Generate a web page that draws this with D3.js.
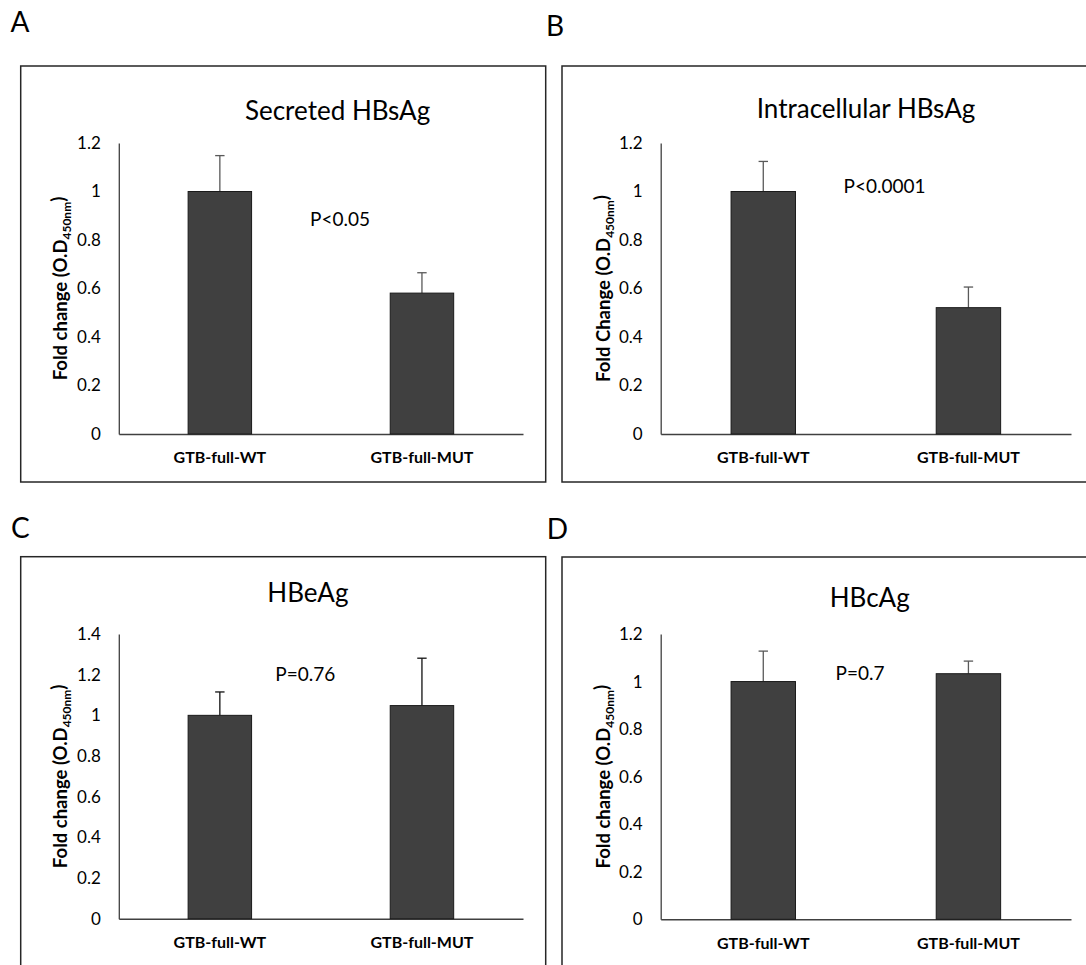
<!DOCTYPE html>
<html>
<head>
<meta charset="utf-8">
<script src="https://cdn.jsdelivr.net/npm/d3@7"></script>
<style>
  body { margin: 0; background: #fff; }
  svg { display: block; font-family: Lato, "Open Sans", sans-serif; }
</style>
</head>
<body>
<div id="chart"></div>
<script>
// values
var categories = ["GTB-full-WT", "GTB-full-MUT"];
var panelLetters = ["A", "B", "C", "D"];
var panelTitles = ["Secreted HBsAg", "Intracellular HBsAg", "HBeAg", "HBcAg"];
var yLabels = ["Fold change", "Fold Change", "Fold change", "Fold change"];
var pLabels = ["P<0.05", "P<0.0001", "P=0.76", "P=0.7"];
var yMax = [1.2, 1.2, 1.4, 1.2];
var means = [[1.0, 0.581], [1.0, 0.521], [1.0, 1.048], [1.0, 1.033]];
var errors = [[0.148, 0.084], [0.124, 0.085], [0.115, 0.233], [0.128, 0.053]];

// layout of each panel (page pixels)
var layout = [
  { fx: 20.7, fy: 66, fw: 525, fh: 416, x0: 118.8, x1: 523, top: 143, bot: 434,
    lx: 10.4, ly: 32, tx: 337.6, ty: 120, px: 310, py: 226, ylx: 60.6, err: "#595959" },
  { fx: 562, fy: 66, fw: 560, fh: 416, x0: 660.7, x1: 1071, top: 143, bot: 434,
    lx: 546, ly: 36, tx: 866, ty: 118, px: 843.6, py: 193, ylx: 603.6, err: "#595959" },
  { fx: 20.7, fy: 556.7, fw: 525, fh: 430, x0: 118.8, x1: 523, top: 634, bot: 918.7,
    lx: 11, ly: 538, tx: 307.9, ty: 602, px: 275.3, py: 681, ylx: 60.6, err: "#111" },
  { fx: 562, fy: 557, fw: 560, fh: 430, x0: 660.7, x1: 1071, top: 634, bot: 919.3,
    lx: 546.7, ly: 539, tx: 869.7, ty: 607, px: 835.6, py: 680, ylx: 603.6, err: "#595959" }
];

var width = 1086, height = 965;
var svg = d3.select("#chart").append("svg")
  .attr("width", width)
  .attr("height", height);

function fmt(d) {
  return d === 0 ? "0" : String(+d.toFixed(1));
}

panelLetters.forEach(function(letter, i) {
  var L = layout[i];
  var g = svg.append("g");

  g.append("rect")
    .attr("x", L.fx).attr("y", L.fy)
    .attr("width", L.fw).attr("height", L.fh)
    .attr("fill", "none")
    .attr("stroke", "#262626")
    .attr("stroke-width", 1.5);

  g.append("text")
    .attr("x", L.lx).attr("y", L.ly)
    .style("font-size", "28px")
    .style("fill", "#000")
    .text(letter);

  var x = d3.scaleBand()
    .domain(categories)
    .range([L.x0, L.x1])
    .paddingInner(0.686)
    .paddingOuter(0.343);

  var y = d3.scaleLinear()
    .domain([0, yMax[i]])
    .range([L.bot, L.top]);

  // title
  g.append("text")
    .attr("x", L.tx)
    .attr("y", L.ty)
    .attr("text-anchor", "middle")
    .style("font-size", "26px")
    .style("fill", "#000")
    .text(panelTitles[i]);

  // y axis
  var yAxis = g.append("g")
    .attr("transform", "translate(" + L.x0 + ",0)")
    .call(d3.axisLeft(y).ticks(yMax[i] / 0.2).tickSize(0).tickPadding(18).tickFormat(fmt));
  yAxis.select(".domain").attr("stroke", "#404040").attr("stroke-width", 1.3);
  yAxis.selectAll("text")
    .style("font-size", "17px")
    .style("font-family", "Lato, sans-serif")
    .style("fill", "#000");

  // x axis
  var xAxis = g.append("g")
    .attr("transform", "translate(0," + L.bot + ")")
    .call(d3.axisBottom(x).tickSize(0).tickPadding(18));
  xAxis.select(".domain").attr("stroke", "#404040").attr("stroke-width", 1.5);
  xAxis.selectAll("text")
    .attr("dy", "0.71em")
    .style("font-size", "16px")
    .style("font-weight", "bold")
    .style("font-family", "Lato, sans-serif")
    .style("fill", "#000");

  var rows = categories.map(function(c, j) {
    return { cat: c, v: means[i][j], e: errors[i][j] };
  });

  // error bars (upper only)
  var eb = g.selectAll("g.err").data(rows).enter().append("g").attr("class", "err");
  eb.append("line")
    .attr("x1", function(d) { return x(d.cat) + x.bandwidth() / 2; })
    .attr("x2", function(d) { return x(d.cat) + x.bandwidth() / 2; })
    .attr("y1", function(d) { return y(d.v); })
    .attr("y2", function(d) { return y(d.v + d.e); })
    .attr("stroke", L.err).attr("stroke-width", 1.3);
  eb.append("line")
    .attr("x1", function(d) { return x(d.cat) + x.bandwidth() / 2 - 4.7; })
    .attr("x2", function(d) { return x(d.cat) + x.bandwidth() / 2 + 4.7; })
    .attr("y1", function(d) { return y(d.v + d.e); })
    .attr("y2", function(d) { return y(d.v + d.e); })
    .attr("stroke", L.err).attr("stroke-width", 1.3);

  // bars
  g.selectAll("rect.bar").data(rows).enter().append("rect")
    .attr("class", "bar")
    .attr("x", function(d) { return x(d.cat); })
    .attr("width", x.bandwidth())
    .attr("y", function(d) { return y(d.v); })
    .attr("height", function(d) { return y(0) - y(d.v); })
    .attr("fill", "#404040")
    .attr("stroke", "#1a1a1a")
    .attr("stroke-width", 1);

  // p value
  g.append("text")
    .attr("x", L.px).attr("y", L.py)
    .style("font-size", "19px")
    .style("fill", "#000")
    .text(pLabels[i]);

  // y label with subscript
  var cy = (L.top + L.bot) / 2;
  var yl = g.append("text")
    .attr("transform", "translate(" + L.ylx + "," + cy + ") rotate(-90)")
    .attr("text-anchor", "middle")
    .attr("dy", "0.35em")
    .style("font-size", "18.5px")
    .style("font-weight", "bold")
    .style("fill", "#000");
  yl.append("tspan").text(yLabels[i] + " (O.D");
  yl.append("tspan").attr("dy", "0.3em").style("font-size", "12px").text("450nm");
  yl.append("tspan").attr("dy", "-0.3em").text(")");
});
</script>
</body>
</html>
